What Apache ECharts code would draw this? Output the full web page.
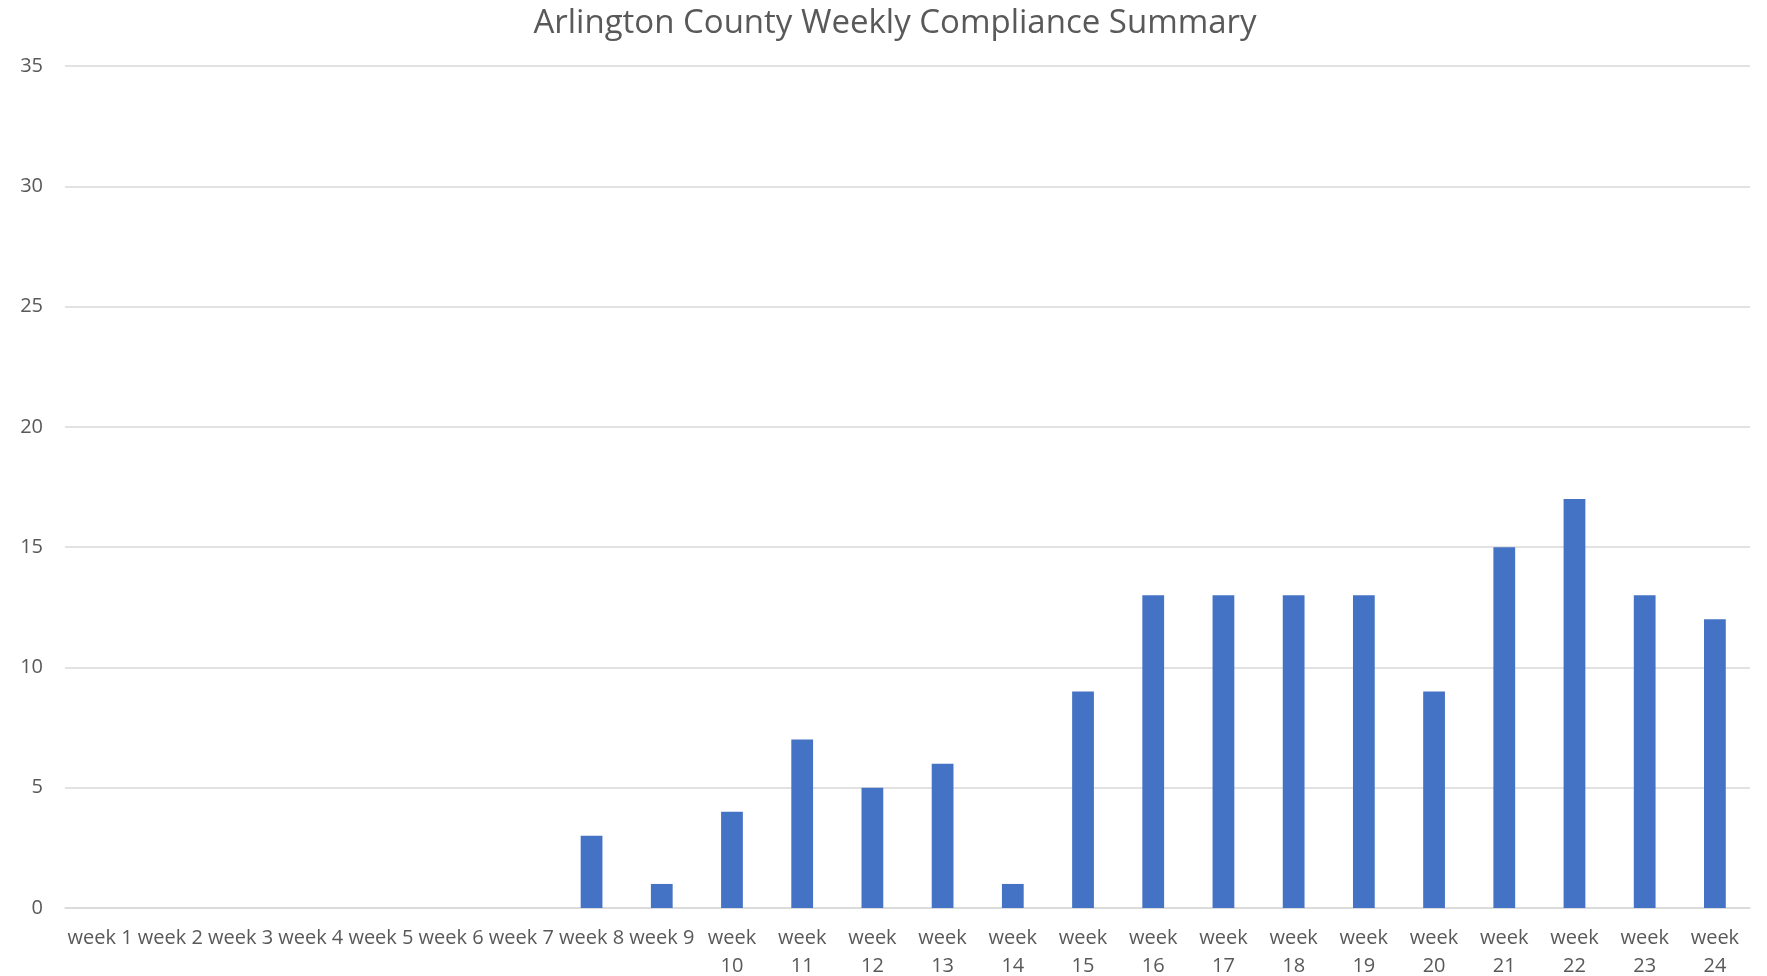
<!DOCTYPE html>
<html>
<head>
<meta charset="utf-8">
<title>Arlington County Weekly Compliance Summary</title>
<script src="https://cdn.jsdelivr.net/npm/echarts@6/dist/echarts.min.js"></script>
<style>
  html, body { margin: 0; padding: 0; background: #fff; }
  #chart { width: 1767px; height: 976px; }
</style>
</head>
<body>
<div id="chart"></div>
<script>
// data
const weeks = ['week 1', 'week 2', 'week 3', 'week 4', 'week 5', 'week 6', 'week 7', 'week 8',
  'week 9', 'week 10', 'week 11', 'week 12', 'week 13', 'week 14', 'week 15', 'week 16',
  'week 17', 'week 18', 'week 19', 'week 20', 'week 21', 'week 22', 'week 23', 'week 24'];
const counts = [0, 0, 0, 0, 0, 0, 0, 3, 1, 4, 7, 5, 6, 1, 9, 13, 13, 13, 13, 9, 15, 17, 13, 12];
const yTicks = [0, 5, 10, 15, 20, 25, 30, 35];

const chart = echarts.init(document.getElementById('chart'));

const option = {
  animation: false,
  title: {
    text: 'Arlington County Weekly Compliance Summary',
    left: 890,
    textAlign: 'center',
    top: 2,
    textStyle: {
      fontFamily: 'Open Sans',
      fontWeight: 400,
      fontSize: 33,
      color: '#595959'
    }
  },
  grid: {
    left: 65,
    right: 17,
    top: 66,
    bottom: 68,
    outerBoundsMode: 'none',
    containLabel: false
  },
  xAxis: {
    type: 'category',
    data: weeks,
    axisTick: { show: false },
    axisLine: { lineStyle: { color: '#d9d9d9', width: 1.5 } },
    axisLabel: {
      interval: 0,
      color: '#595959',
      fontFamily: 'Open Sans',
      fontSize: 20,
      lineHeight: 28,
      margin: 16,
      // two-digit weeks do not fit on one line, so they wrap
      formatter: v => v.length > 6 ? v.replace(' ', '\n') : v
    }
  },
  yAxis: {
    type: 'value',
    min: yTicks[0],
    max: yTicks[yTicks.length - 1],
    interval: 5,
    axisLine: { show: false },
    axisTick: { show: false },
    splitLine: { lineStyle: { color: '#d9d9d9', width: 1.5 } },
    axisLabel: {
      color: '#595959',
      fontFamily: 'Open Sans',
      fontSize: 20,
      margin: 22
    }
  },
  series: [{
    name: 'Compliance',
    type: 'bar',
    data: counts,
    barWidth: '31%',
    itemStyle: { color: '#4472c4' }
  }]
};

chart.setOption(option);
</script>
</body>
</html>
